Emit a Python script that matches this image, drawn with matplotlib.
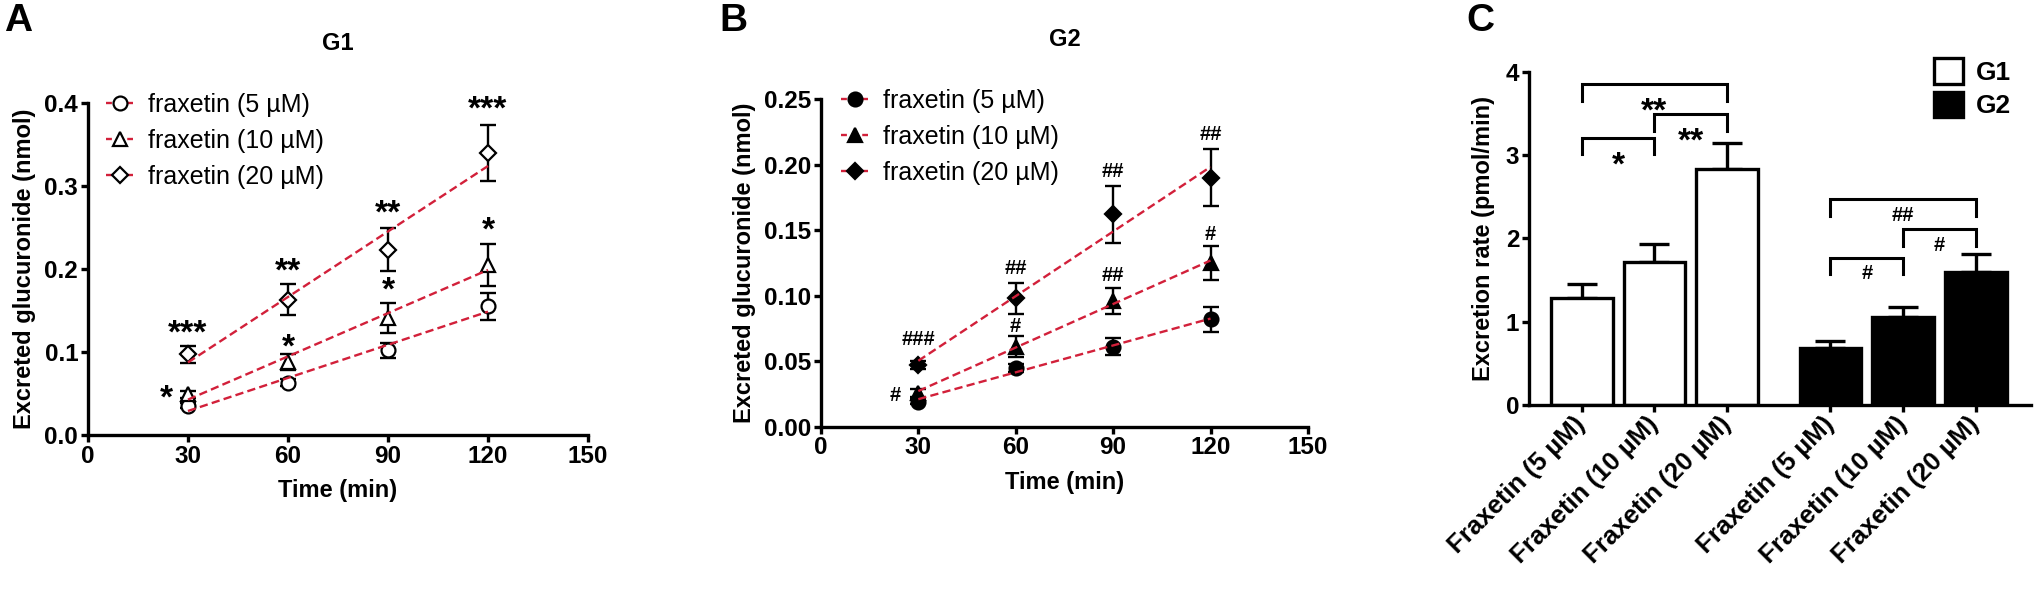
import numpy as np
import matplotlib
matplotlib.use('Agg')
import matplotlib.pyplot as plt
from matplotlib.lines import Line2D
from matplotlib.patches import Patch

plt.rcParams['font.family'] = ['Liberation Sans', 'DejaVu Sans']

# ---------------- data ----------------
times = [30, 60, 90, 120]
conc_labels = ['fraxetin (5 µM)', 'fraxetin (10 µM)', 'fraxetin (20 µM)']

# panel A (G1), nmol
g1_5 = [0.035, 0.063, 0.102, 0.155]
g1_5_err = [0.003, 0.004, 0.009, 0.016]
g1_10 = [0.049, 0.088, 0.141, 0.205]
g1_10_err = [0.004, 0.010, 0.018, 0.025]
g1_20 = [0.097, 0.163, 0.223, 0.340]
g1_20_err = [0.010, 0.019, 0.026, 0.034]

# panel B (G2), nmol
g2_5 = [0.019, 0.045, 0.061, 0.082]
g2_5_err = [0.002, 0.003, 0.0065, 0.0095]
g2_10 = [0.026, 0.061, 0.096, 0.125]
g2_10_err = [0.003, 0.008, 0.010, 0.013]
g2_20 = [0.047, 0.098, 0.162, 0.190]
g2_20_err = [0.003, 0.012, 0.022, 0.022]

# significance marks: (time, y of glyph centre, label)
a_marks = [(30, 0.124, '***'), (60, 0.198, '**'), (90, 0.268, '**'), (120, 0.393, '***'),
           (60, 0.107, '*'), (90, 0.175, '*'), (120, 0.247, '*'), (23.5, 0.045, '*')]
b_marks = [(30, 0.0675, '###'), (60, 0.122, '##'), (90, 0.196, '##'), (120, 0.2246, '##'),
           (60, 0.0776, '#'), (90, 0.117, '##'), (120, 0.1476, '#'), (23, 0.0255, '#')]

# panel C, pmol/min
bar_labels = ['Fraxetin (5 µM)', 'Fraxetin (10 µM)', 'Fraxetin (20 µM)'] * 2
rate_g1 = [1.29, 1.72, 2.83]
rate_g1_err = [0.16, 0.21, 0.32]
rate_g2 = [0.69, 1.06, 1.60]
rate_g2_err = [0.08, 0.12, 0.21]
# brackets: (bar i, bar j, top y, label)
brackets = [(0, 1, 3.21, '*'), (0, 2, 3.85, '**'), (1, 2, 3.49, '**'),
            (3, 4, 1.77, '#'), (3, 5, 2.47, '##'), (4, 5, 2.11, '#')]

RED = '#d2203a'
LW = 2.4
FS_TICK = 17.5
FS_LAB = 17
FS_STAR = 24
FS_HASH = 14.5


def mark(ax, x, y, s, star_drop=0.30):
    # y is where the glyph centre sits; asterisks ride high in the em box
    star = '*' in s
    fs = FS_STAR if star else FS_HASH
    ax.annotate(s, (x, y), xytext=(0, -(star_drop if star else 0.36) * fs),
                textcoords='offset points', ha='center', va='baseline', fontsize=fs,
                fontweight='bold', annotation_clip=False)


def style(ax):
    for s in ('top', 'right'):
        ax.spines[s].set_visible(False)
    for s in ('left', 'bottom'):
        ax.spines[s].set_linewidth(LW)
    ax.tick_params(direction='out', length=5, width=LW, pad=2,
                   labelsize=FS_TICK)
    for t in ax.get_xticklabels() + ax.get_yticklabels():
        t.set_fontweight('bold')


fig = plt.figure(figsize=(20.36, 5.91), dpi=100)
axA = fig.add_axes([0.0432, 0.264, 0.2456, 0.5617])
axB = fig.add_axes([0.4032, 0.278, 0.2392, 0.5545])
axC = fig.add_axes([0.751, 0.3147, 0.2466, 0.564])


def time_panel(ax, series, errs, markers, filled, marks, title, ylim, yticks, yfmt, leg_x):
    handles = []
    for y, e, m, ms in zip(series, errs, markers, [10, 10.5, 8.6]):
        fc = 'black' if filled else 'white'
        ax.errorbar(times, y, yerr=e, fmt='none', ecolor='black', elinewidth=1.7,
                    capsize=5.5, capthick=1.7, zorder=2)
        ax.plot(times, y, linestyle='none', marker=m, ms=ms, mfc=fc, mec='black',
                mew=1.6, zorder=3, clip_on=False)
        k, b = np.polyfit(times, y, 1)
        xs = np.array([times[0], times[-1]])
        ax.plot(xs, k * xs + b, color=RED, lw=1.7, dashes=(3.5, 1.8), zorder=4)
        handles.append(Line2D([], [], color=RED, lw=1.7, dashes=(2.5, 2), marker=m, ms=ms,
                              mfc=fc, mec='black', mew=1.6))
    for x, y, s in marks:
        mark(ax, x, y, s)
    ax.set_xlim(0, 150)
    ax.set_xticks([0, 30, 60, 90, 120, 150])
    ax.set_ylim(*ylim)
    ax.set_yticks(yticks)
    ax.set_yticklabels([yfmt % v for v in yticks])
    ax.set_xlabel('Time (min)', fontsize=FS_LAB, fontweight='bold', labelpad=8)
    ax.set_ylabel('Excreted glucuronide (nmol)', fontsize=FS_LAB, fontweight='bold',
                  labelpad=6)
    ax.set_title(title, fontsize=17, fontweight='bold', pad=38)
    ax.legend(handles, conc_labels, loc='upper left', bbox_to_anchor=(leg_x, 1.03),
              frameon=False, fontsize=18, handlelength=1.1, handletextpad=0.6,
              labelspacing=0.48, borderpad=0, borderaxespad=0)
    style(ax)


time_panel(axA, [g1_5, g1_10, g1_20], [g1_5_err, g1_10_err, g1_20_err],
           ['o', '^', 'D'], False, a_marks, 'G1', (0, 0.4),
           [0, 0.1, 0.2, 0.3, 0.4], '%.1f', 0.036)
time_panel(axB, [g2_5, g2_10, g2_20], [g2_5_err, g2_10_err, g2_20_err],
           ['o', '^', 'D'], True, b_marks, 'G2', (0, 0.25),
           [0, 0.05, 0.10, 0.15, 0.20, 0.25], '%.2f', 0.041)

# ---------------- panel C ----------------
pos = np.array([0, 1, 2, 3.42, 4.42, 5.42])
vals = rate_g1 + rate_g2
errs = rate_g1_err + rate_g2_err
colors = ['white'] * 3 + ['black'] * 3
axC.bar(pos, vals, width=0.85, color=colors, edgecolor='black', linewidth=LW, zorder=2)
axC.errorbar(pos, vals, yerr=[np.zeros(6), errs], fmt='none', ecolor='black',
             elinewidth=LW, capsize=11, capthick=LW, zorder=1)
for i, j, top, s in brackets:
    xi, xj = pos[i], pos[j]
    axC.plot([xi, xi, xj, xj], [top - 0.2, top, top, top - 0.2], color='black',
             lw=2.2, solid_joinstyle='miter')
    mark(axC, (xi + xj) / 2, top - 0.17, s, star_drop=0.68)
axC.set_xlim(-0.725, 6.18)
axC.set_ylim(0, 4)
axC.set_yticks([0, 1, 2, 3, 4])
axC.set_xticks(pos)
axC.set_xticklabels(bar_labels, rotation=45, ha='right', va='center',
                    rotation_mode='anchor')
axC.set_ylabel('Excretion rate (pmol/min)', fontsize=FS_LAB, fontweight='bold', labelpad=8)
style(axC)
axC.tick_params(axis='x', labelsize=18.5, pad=6)
for t in axC.get_xticklabels():
    t.set_fontweight('bold')
axC.legend([Patch(facecolor='white', edgecolor='black', lw=LW),
            Patch(facecolor='black', edgecolor='black', lw=LW)], ['G1', 'G2'],
           loc='upper right', bbox_to_anchor=(0.96, 1.04), frameon=False,
           prop={'size': 19, 'weight': 'bold'}, handlelength=1.1, handleheight=1.1,
           handletextpad=0.5, labelspacing=0.25, borderpad=0, borderaxespad=0)

for x, s in [(0.0088, 'A'), (0.36, 'B'), (0.727, 'C')]:
    fig.text(x, 0.965, s, fontsize=28, fontweight='bold', ha='center', va='center')

fig.savefig('out.png', dpi=100)
